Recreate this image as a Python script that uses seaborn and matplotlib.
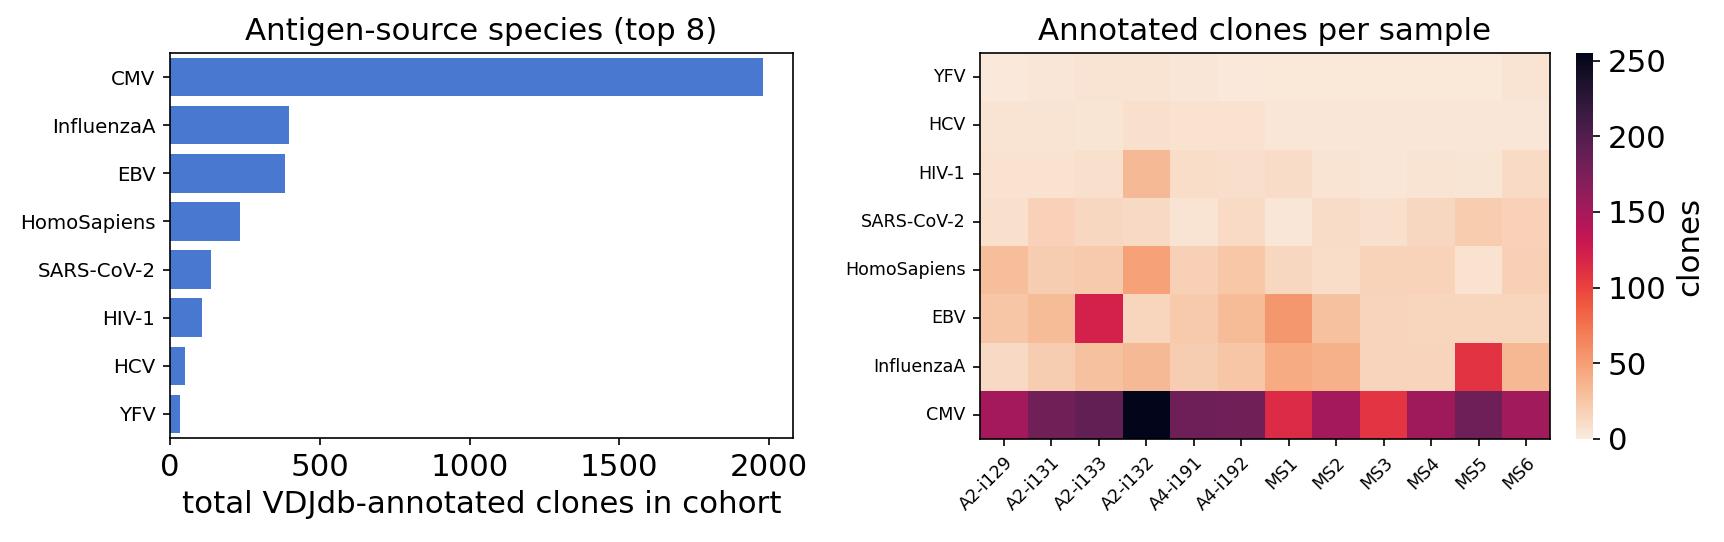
import numpy as np
import pandas as pd
import matplotlib
matplotlib.use("Agg")
import matplotlib.pyplot as plt
import seaborn as sns

# totals per antigen species (bar panel, top to bottom)
species = ["CMV", "InfluenzaA", "EBV", "HomoSapiens", "SARS-CoV-2", "HIV-1", "HCV", "YFV"]
totals = [1981, 398, 384, 234, 136, 107, 51, 33]

# per-sample counts (heatmap panel)
samples = ["A2-i129", "A2-i131", "A2-i133", "A2-i132", "A4-i191", "A4-i192",
           "MS1", "MS2", "MS3", "MS4", "MS5", "MS6"]
heat_rows = ["YFV", "HCV", "HIV-1", "SARS-CoV-2", "HomoSapiens", "EBV", "InfluenzaA", "CMV"]
yfv = [1, 3, 5, 5, 3, 1, 2, 2, 2, 2, 2, 5]
hcv = [5, 5, 4, 7, 6, 6, 3, 3, 3, 3, 3, 3]
hiv = [6, 6, 7, 33, 9, 8, 10, 5, 3, 5, 4, 11]
sars = [7, 17, 13, 12, 5, 11, 3, 10, 7, 13, 21, 17]
homo = [30, 20, 22, 48, 18, 24, 13, 9, 16, 16, 6, 18]
ebv = [25, 32, 121, 14, 22, 32, 54, 28, 15, 14, 14, 14]
flu = [12, 20, 28, 33, 20, 25, 42, 38, 15, 15, 109, 34]
cmv = [152, 181, 191, 255, 183, 182, 114, 151, 108, 154, 183, 153]

heat = pd.DataFrame([yfv, hcv, hiv, sars, homo, ebv, flu, cmv],
                    index=heat_rows, columns=samples)
bars = pd.DataFrame({"species": species, "total": totals})

W, H = 1724, 542
fig = plt.figure(figsize=(W / 150, H / 150), dpi=150)
ax1 = fig.add_axes([170 / W, 1 - 438 / H, (793 - 170) / W, (438 - 53) / H])
ax2 = fig.add_axes([980 / W, 1 - 439 / H, (1550 - 980) / W, (439 - 53) / H])
cax = fig.add_axes([1576 / W, 1 - 439 / H, 17 / W, (439 - 53) / H])

big, small, tiny = 14.8, 9.5, 8.4

sns.barplot(data=bars, x="total", y="species", color="#4878d0",
            saturation=1, width=0.8, ax=ax1)
ax1.set_title("Antigen-source species (top 8)", fontsize=big)
ax1.set_xlabel("total VDJdb-annotated clones in cohort", fontsize=big)
ax1.set_ylabel("")
ax1.tick_params(axis="x", labelsize=big)
ax1.tick_params(axis="y", labelsize=small)

sns.heatmap(heat, cmap="rocket_r", vmin=0, vmax=255, ax=ax2, cbar_ax=cax,
            cbar_kws={"label": "clones", "ticks": [0, 50, 100, 150, 200, 250]})
ax2.set_title("Annotated clones per sample", fontsize=big)
ax2.set_xlabel("")
ax2.set_ylabel("")
ax2.tick_params(axis="both", labelsize=tiny)
plt.setp(ax2.get_xticklabels(), rotation=45, ha="right", rotation_mode="anchor")
plt.setp(ax2.get_yticklabels(), rotation=0)
for s in ax2.spines.values():
    s.set_visible(True)
cax.tick_params(labelsize=big)
cax.yaxis.label.set_size(big)

fig.savefig("out.png", dpi=150)
